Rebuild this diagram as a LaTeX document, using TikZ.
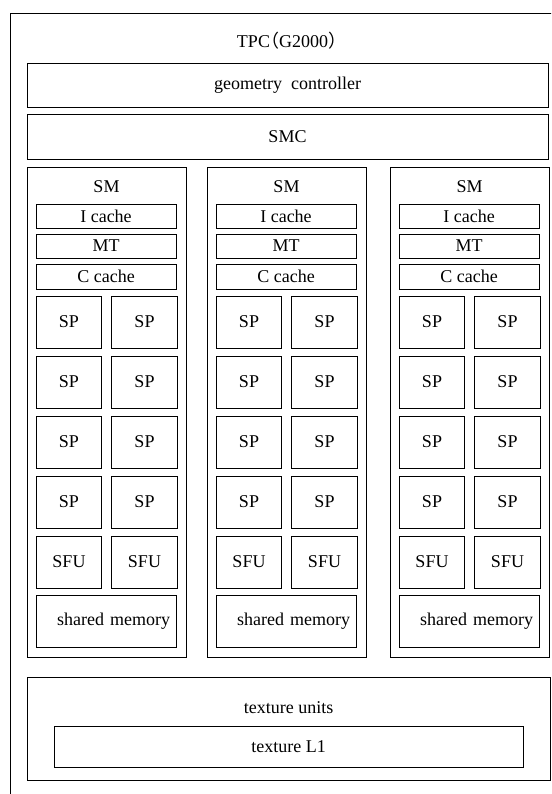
\documentclass[tikz,border=0pt]{standalone}
\usepackage{fontspec}
\setmainfont{Liberation Serif}
\newfontfamily\cjk{Noto Sans CJK SC}
\usetikzlibrary{positioning}

\begin{document}
\begin{tikzpicture}[x=1pt, y=-1pt, line width=0.8pt, font=\fontsize{18}{21}\selectfont,
  blk/.style={draw, rectangle, inner sep=0pt, align=center},
  unit/.style={blk, minimum width=65.5pt, minimum height=52pt}]
\useasboundingbox (0,0) rectangle (551,794);
\clip (0,0) rectangle (551,794);
% TPC frame, runs off the page on the right and bottom
\draw (10,13) rectangle (600,850);
\node [align=center] (tpc) at (287,41) {TPC\hspace{-0.5em}{\cjk （}G2000{\cjk ）}\hspace{-0.5em}};
\node [blk, minimum width=521pt, minimum height=44pt] (geo) at (287.5,85) {geometry~~controller};
\node [blk, minimum width=521pt, minimum height=45pt] (smc) at (287.5,136.5) {SMC};
% three SMs
\foreach \n/\x in {1/27, 2/207, 3/390} {
  \node [blk, minimum width=159pt, minimum height=490pt, anchor=north west] (sm\n) at (\x,167) {};
  \node (smlbl\n) at (\x+79.5,187) {SM};
  \node [blk, minimum width=140pt, minimum height=24pt] (ic\n) at (\x+79,216) {I cache};
  \node [blk, minimum width=140pt, minimum height=24pt] (mt\n) at (\x+79,246) {MT};
  \node [blk, minimum width=140pt, minimum height=25pt] (cc\n) at (\x+79,276.5) {C cache};
  \foreach \r/\y in {1/322, 2/382, 3/442, 4/502} {
    \node [unit] (spa\n\r) at (\x+42,\y) {SP};
    \node [unit] (spb\n\r) at (\x+117.5,\y) {SP};
  }
  \node [unit] (sfua\n) at (\x+42,562) {SFU};
  \node [unit] (sfub\n) at (\x+117.5,562) {SFU};
  \node [blk, minimum width=140pt, minimum height=52pt, text width=128pt, align=right] (shm\n) at (\x+79,621) {shared memory};
}
% texture units
\node [blk, minimum width=523pt, minimum height=103pt] (tex) at (288.5,728.5) {};
\node (texlbl) at (288.5,708) {texture units};
\node [blk, minimum width=469pt, minimum height=41pt] (tl1) at (288.5,746.5) {texture L1};
\end{tikzpicture}
\end{document}
